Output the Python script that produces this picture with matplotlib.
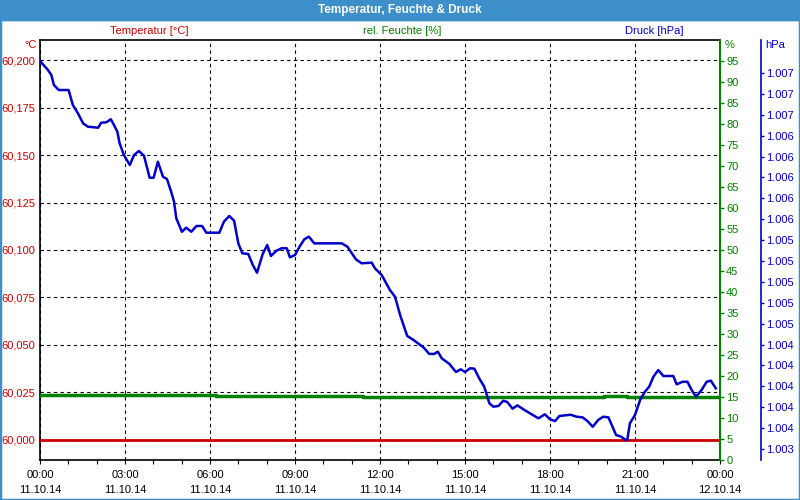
import numpy as np
import matplotlib
matplotlib.use('Agg')
import matplotlib.pyplot as plt
from matplotlib.patches import Rectangle

RED = '#cc0000'
GREEN = '#008000'
BLUE = '#0000c8'
BAR = '#3d8fc9'

# time axis (hours since 11.10.14 00:00)
time_ticks = [0, 3, 6, 9, 12, 15, 18, 21, 24]
time_labels = ['00:00\n11.10.14', '03:00\n11.10.14', '06:00\n11.10.14',
               '09:00\n11.10.14', '12:00\n11.10.14', '15:00\n11.10.14',
               '18:00\n11.10.14', '21:00\n11.10.14', '00:00\n12.10.14']

# temperature (flat)
temp_hours = [0, 24]
temp_vals = [60.000, 60.000]
temp_ticks = [60.000, 60.025, 60.050, 60.075, 60.100, 60.125, 60.150, 60.175, 60.200]
temp_labels = ['60,000', '60,025', '60,050', '60,075', '60,100',
               '60,125', '60,150', '60,175', '60,200']

# humidity
hum_hours = [0, 6.2, 6.6, 11.4, 13.5, 16.9, 19.9, 20.7, 24.0]
hum_vals = [15.4, 15.2, 15.3, 15.1, 14.9, 15.1, 15.3, 15.1, 15.1]
hum_ticks = list(range(0, 100, 5))

# pressure
press_hours = [0.0, 0.28, 0.40, 0.49, 0.66, 1.01, 1.16, 1.34, 1.52, 1.69,
               2.05, 2.16, 2.34, 2.50, 2.61, 2.73, 2.81, 2.96, 3.17, 3.32,
               3.49, 3.67, 3.87, 4.01, 4.16, 4.34, 4.48, 4.63, 4.73, 4.81,
               5.01, 5.16, 5.34, 5.52, 5.72, 5.87, 6.26, 6.33, 6.49, 6.68,
               6.85, 7.00, 7.14, 7.35, 7.51, 7.66, 7.86, 8.02, 8.15, 8.35,
               8.53, 8.71, 8.82, 9.00, 9.18, 9.33, 9.49, 9.68, 10.65, 10.85,
               11.15, 11.35, 11.71, 11.82, 12.06, 12.35, 12.53, 12.71, 12.96, 13.18,
               13.53, 13.74, 13.91, 14.04, 14.18, 14.45, 14.68, 14.85, 15.00, 15.18,
               15.33, 15.50, 15.68, 15.86, 16.00, 16.18, 16.35, 16.49, 16.68, 16.85,
               17.06, 17.29, 17.59, 17.82, 18.00, 18.18, 18.33, 18.73, 18.94, 19.15,
               19.32, 19.51, 19.70, 19.88, 20.06, 20.18, 20.33, 20.51, 20.67, 20.73,
               20.82, 21.00, 21.18, 21.35, 21.50, 21.65, 21.82, 22.00, 22.35, 22.47,
               22.68, 22.85, 23.00, 23.15, 23.35, 23.53, 23.68, 23.85]
press_vals = [1.007115, 1.007029, 1.006981, 1.006885, 1.006837, 1.006837, 1.006693, 1.006614, 1.006518, 1.006486,
              1.006476, 1.006524, 1.006528, 1.006557, 1.006502, 1.006438, 1.006327, 1.006215, 1.006119, 1.006215,
              1.006253, 1.006208, 1.005997, 1.005997, 1.006151, 1.006007, 1.005985, 1.005863, 1.005768, 1.005609,
              1.005480, 1.005519, 1.005480, 1.005535, 1.005535, 1.005471, 1.005471, 1.005471, 1.005576, 1.005631,
              1.005586, 1.005369, 1.005274, 1.005267, 1.005162, 1.005088, 1.005267, 1.005353, 1.005248, 1.005299,
              1.005322, 1.005322, 1.005235, 1.005257, 1.005346, 1.005408, 1.005433, 1.005369, 1.005369, 1.005337,
              1.005216, 1.005178, 1.005184, 1.005130, 1.005066, 1.004922, 1.004858, 1.004683, 1.004482, 1.004444,
              1.004374, 1.004310, 1.004310, 1.004332, 1.004268, 1.004214, 1.004137, 1.004163, 1.004137, 1.004173,
              1.004169, 1.004077, 1.003996, 1.003838, 1.003805, 1.003812, 1.003862, 1.003850, 1.003786, 1.003818,
              1.003780, 1.003742, 1.003694, 1.003732, 1.003684, 1.003668, 1.003716, 1.003728, 1.003709, 1.003703,
              1.003668, 1.003613, 1.003678, 1.003709, 1.003703, 1.003630, 1.003534, 1.003518, 1.003486, 1.003493,
              1.003646, 1.003726, 1.003869, 1.003949, 1.003996, 1.004092, 1.004156, 1.004099, 1.004099, 1.004019,
              1.004044, 1.004044, 1.003965, 1.003901, 1.003965, 1.004044, 1.004054, 1.003981]
press_ticks = [1.0034, 1.0036, 1.0038, 1.0040, 1.0042, 1.0044, 1.0046, 1.0048, 1.0050, 1.0052,
               1.0054, 1.0056, 1.0058, 1.0060, 1.0062, 1.0064, 1.0066, 1.0068, 1.0070]
press_labels = ['1.003', '1.004', '1.004', '1.004', '1.004', '1.004', '1.005', '1.005', '1.005', '1.005',
                '1.005', '1.006', '1.006', '1.006', '1.006', '1.006', '1.007', '1.007', '1.007']

plt.rcParams['font.family'] = ['Liberation Sans', 'DejaVu Sans']
plt.rcParams['font.size'] = 8

fig = plt.figure(figsize=(8, 5), dpi=100)
fig.patches.append(Rectangle((0, 0.96), 1, 0.04, transform=fig.transFigure,
                             color=BAR, zorder=0))
fig.patches.append(Rectangle((0, 0), 1, 0.962, transform=fig.transFigure,
                             fill=False, edgecolor=BAR, lw=2.5, zorder=0))
fig.text(0.5, 1 - 10 / 500, 'Temperatur, Feuchte & Druck', color='white',
         fontsize=8.5, fontweight='bold', ha='center', va='center')

ax = fig.add_axes([0.05, 0.08, 0.85, 0.84])
ax.set_xlim(0, 24)
ax.set_ylim(59.98947, 60.21053)
ax.set_xticks(time_ticks)
ax.set_xticklabels(time_labels, linespacing=1.6)
ax.set_xticks(range(0, 25), minor=True)
ax.tick_params(axis='x', which='both', length=3, width=0.8, direction='out', pad=4)
ax.set_yticks(temp_ticks)
ax.set_yticklabels(temp_labels)
ax.tick_params(axis='y', length=0, pad=3.5, labelcolor=RED)
ax.grid(True, color='black', linestyle=(0, (3, 3)), linewidth=0.8)
ax.spines['right'].set_visible(False)
for s in ['top', 'left', 'bottom']:
    ax.spines[s].set_linewidth(1.2)
ax.plot(temp_hours, temp_vals, color=RED, lw=2, zorder=3)

ax2 = ax.twinx()
ax2.set_ylim(0, 100)
ax2.set_yticks(hum_ticks)
ax2.tick_params(axis='y', length=3, width=1, pad=1.5, colors=GREEN)
ax2.spines['right'].set_color(GREEN)
ax2.spines['right'].set_linewidth(1.5)
for s in ['top', 'left', 'bottom']:
    ax2.spines[s].set_visible(False)
ax2.plot(hum_hours, hum_vals, color=GREEN, lw=2.5, drawstyle='steps-post')

ax3 = ax.twinx()
ax3.set_ylim(1.0032947, 1.0073159)
ax3.spines['right'].set_position(('outward', 29.5))
ax3.spines['right'].set_color(BLUE)
ax3.spines['right'].set_linewidth(1.2)
for s in ['top', 'left', 'bottom']:
    ax3.spines[s].set_visible(False)
ax3.set_yticks(press_ticks)
ax3.set_yticklabels(press_labels)
ax3.tick_params(axis='y', length=2, width=1, pad=2, colors=BLUE)
ax3.plot(press_hours, press_vals, color=BLUE, lw=1.8)

# header labels
fig.text(149 / 800, 1 - 31 / 500, 'Temperatur [°C]', color=RED, ha='center', va='center')
fig.text(402 / 800, 1 - 31 / 500, 'rel. Feuchte [%]', color=GREEN, ha='center', va='center')
fig.text(654 / 800, 1 - 31 / 500, 'Druck [hPa]', color=BLUE, ha='center', va='center')
fig.text(37 / 800, 1 - 45 / 500, '°C', color=RED, ha='right', va='center')
fig.text(725 / 800, 1 - 45 / 500, '%', color=GREEN, ha='left', va='center')
fig.text(765 / 800, 1 - 45 / 500, 'hPa', color=BLUE, ha='left', va='center')

fig.savefig('out.png', dpi=100, facecolor='white')
